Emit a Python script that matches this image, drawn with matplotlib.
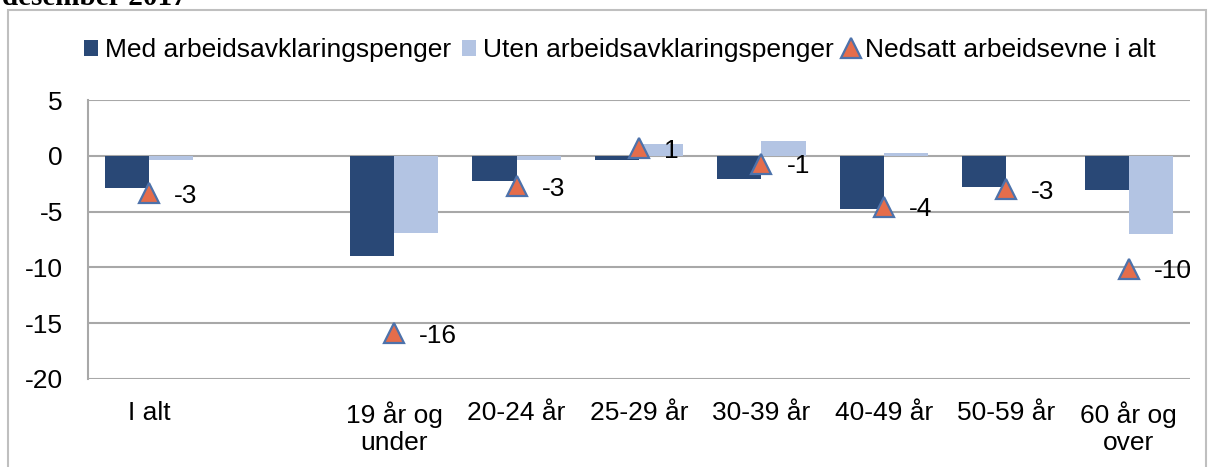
import numpy as np
import matplotlib
matplotlib.use('Agg')
import matplotlib.pyplot as plt
from matplotlib.patches import Rectangle

plt.rcParams['font.family'] = ['Liberation Sans', 'DejaVu Sans']
plt.rcParams['font.size'] = 19
plt.rcParams['axes.unicode_minus'] = False

categories = ['I alt', '', '19 år og\nunder', '20-24 år', '25-29 år',
              '30-39 år', '40-49 år', '50-59 år', '60 år og\nover']
med_aap = [-2.9, None, -9.0, -2.3, -0.4, -2.05, -4.8, -2.8, -3.1]
uten_aap = [-0.4, None, -6.9, -0.4, 1.05, 1.35, 0.25, -0.05, -7.05]
nedsatt = [-3.35, None, -15.9, -2.7, 0.7, -0.7, -4.55, -3.0, -10.1]
nedsatt_labels = ['-3', '', '-16', '-3', '1', '-1', '-4', '-3', '-10']

dark = '#294876'
light = '#B3C4E3'
tri_face = '#E56D4B'
tri_edge = '#4D72AB'

fig = plt.figure(figsize=(12.08, 4.67), dpi=100)
ax = fig.add_axes([88/1208, 1-379/467, (1190-88)/1208, (379-100)/467])

idx = [i for i, v in enumerate(med_aap) if v is not None]
x = np.array(idx, dtype=float)
w = 0.36
b1 = ax.bar(x - w/2, [med_aap[i] for i in idx], w, color=dark, zorder=2,
            label='Med arbeidsavklaringspenger')
b2 = ax.bar(x + w/2, [uten_aap[i] for i in idx], w, color=light, zorder=2,
            label='Uten arbeidsavklaringspenger')
l1, = ax.plot(x, [nedsatt[i] for i in idx], linestyle='none', marker='^',
              markersize=14, markerfacecolor=tri_face, markeredgecolor=tri_edge,
              markeredgewidth=1.6, zorder=3, label='Nedsatt arbeidsevne i alt')
for i in idx:
    ax.annotate(nedsatt_labels[i], (i, nedsatt[i]), xytext=(18, -2),
                textcoords='offset points', ha='left', va='center',
                fontsize=19, zorder=4)

ax.set_xlim(-0.5, 8.5)
ax.set_ylim(-20, 5)
ax.set_yticks([5, 0, -5, -10, -15, -20])
ax.set_xticks(range(len(categories)))
ax.set_xticklabels(categories, linespacing=1.15)
ax.tick_params(axis='both', length=0)
ax.tick_params(axis='y', pad=18)
ax.tick_params(axis='x', pad=16)
ax.grid(axis='y', color='#A8A8A8', linewidth=1.5, zorder=0)
ax.set_axisbelow(True)
for s in ['top', 'right', 'bottom']:
    ax.spines[s].set_visible(False)
ax.spines['left'].set_color('#A8A8A8')
ax.spines['left'].set_linewidth(1.5)

fig.legend(handles=[b1, b2, l1], loc='center',
           bbox_to_anchor=(620/1208, 1-50/467), ncol=3,
           frameon=False, handlelength=0.55, handleheight=0.55,
           handletextpad=0.25, columnspacing=0.4, borderpad=0, fontsize=19)

# outer chart border, cut at the bottom
fig.patches.append(Rectangle((8/1208, -0.05), 1198/1208, 1.05 - 10/467,
                             transform=fig.transFigure, fill=False,
                             edgecolor='#BFBFBF', linewidth=1.5))
# clipped heading above the chart
fig.text(2/1208, 1-5/467, 'desember 2017', family='Liberation Serif',
         weight='bold', fontsize=21, ha='left', va='baseline')

plt.savefig('out.png', dpi=100)
